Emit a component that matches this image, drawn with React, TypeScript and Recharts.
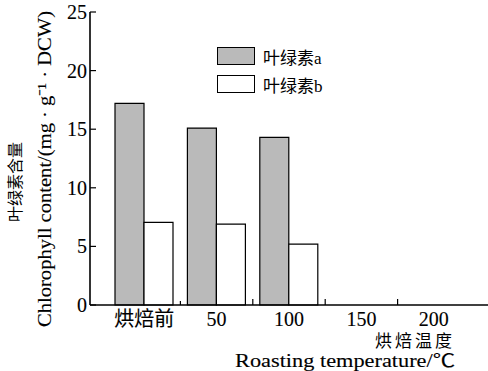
import { BarChart, Bar, XAxis, YAxis, Legend } from 'recharts';

const categories = ['烘焙前', '50', '100', '150', '200'];
const chlorophyllA = [17.2, 15.1, 14.3, 0, 0];
const chlorophyllB = [7.05, 6.9, 5.2, 0, 0];
const yTicks = [0, 5, 10, 15, 20, 25];

const data = categories.map((c, i) => ({ name: c, a: chlorophyllA[i], b: chlorophyllB[i] }));

const W = 488;
const H = 371;
const Y_AXIS_W = 90;
const X_PAD = 18;
const FONT = '"Liberation Serif", "Noto Sans CJK SC", serif';
const BAND = (W - Y_AXIS_W - 2 * X_PAD) / categories.length;

const XTick = (props: any) => {
    const { x, y, payload, index } = props;
    return (
        <g>
            {index < categories.length - 1 && (
                <line x1={x + BAND / 2} x2={x + BAND / 2} y1={y} y2={y - (index === 0 ? 4 : 6)} stroke="#000" strokeWidth={1.2} />
            )}
            <text x={x} y={y + 21} textAnchor="middle" fontSize={20} fontFamily={FONT} fill="#000" stroke="#000" strokeWidth={0.12}>
                {payload.value}
            </text>
        </g>
    );
};

const YTick = (props: any) => {
    const { x, y, payload } = props;
    return (
        <g>
            <line x1={x + 3} x2={x + 9} y1={y} y2={y} stroke="#000" strokeWidth={1.2} />
            <text x={x} y={y} dy="0.35em" textAnchor="end" fontSize={20} fontFamily={FONT} fill="#000" stroke="#000" strokeWidth={0.12}>
                {payload.value}
            </text>
        </g>
    );
};

const renderLegend = () => (
    <div style={{ fontFamily: FONT, fontSize: 17, color: '#000' }}>
        {[
            { fill: '#bababa', label: '叶绿素a' },
            { fill: '#ffffff', label: '叶绿素b' },
        ].map((it) => (
            <div key={it.label} style={{ display: 'flex', alignItems: 'center', height: 28 }}>
                <div style={{ width: 36, height: 16, background: it.fill, border: '1.5px solid #000', marginRight: 8 }} />
                <span>{it.label}</span>
            </div>
        ))}
    </div>
);

const yLabel = () => (
    <g fontFamily={FONT} fill="#000">
        <text x={15} y={182} transform="rotate(-90 15 182)" textAnchor="middle" dy="0.35em" fontSize={16}>
            叶绿素含量
        </text>
        <text
            x={44}
            y={169}
            transform="rotate(-90 44 169)"
            textAnchor="middle"
            dy="0.35em"
            fontSize={19}
            stroke="#000"
            strokeWidth={0.12}
            textLength={316}
            lengthAdjust="spacingAndGlyphs"
        >
            Chlorophyll content/(mg · g⁻¹ · DCW)
        </text>
    </g>
);

const xLabel = () => (
    <g fontFamily={FONT} fill="#000">
        <text x={455} y={347} textAnchor="end" fontSize={17} letterSpacing={3}>烘焙温度</text>
        <text
            x={455}
            y={367}
            textAnchor="end"
            fontSize={18}
            stroke="#000"
            strokeWidth={0.12}
            textLength={220}
            lengthAdjust="spacingAndGlyphs"
        >
            Roasting temperature/℃
        </text>
    </g>
);

export default function App() {
    return (
        <div style={{ position: 'absolute', left: 0, top: 0, background: '#fff' }}>
            <BarChart
                width={W}
                height={H}
                data={data}
                margin={{ top: 12, right: 0, bottom: 0, left: 0 }}
                barGap={0}
            >
                <XAxis
                    dataKey="name"
                    height={H - 305}
                    padding={{ left: X_PAD, right: X_PAD }}
                    axisLine={{ stroke: '#000', strokeWidth: 1.6 }}
                    tickLine={false}
                    tickSize={0}
                    tickMargin={0}
                    interval={0}
                    tick={<XTick />}
                    label={{ content: xLabel }}
                />
                <YAxis
                    width={Y_AXIS_W}
                    domain={[0, 25]}
                    ticks={yTicks}
                    axisLine={{ stroke: '#000', strokeWidth: 1.6 }}
                    tickLine={false}
                    tickSize={0}
                    tickMargin={3}
                    interval={0}
                    tick={<YTick />}
                    label={{ content: yLabel }}
                />
                <Legend
                    layout="vertical"
                    align="center"
                    verticalAlign="middle"
                    content={renderLegend}
                    wrapperStyle={{ top: 42, left: 217, width: 140 }}
                />
                <Bar dataKey="a" name="叶绿素a" fill="#bababa" stroke="#000" strokeWidth={1.2} barSize={29} isAnimationActive={false} />
                <Bar dataKey="b" name="叶绿素b" fill="#ffffff" stroke="#000" strokeWidth={1.2} barSize={29} isAnimationActive={false} />
            </BarChart>
        </div>
    );
}
